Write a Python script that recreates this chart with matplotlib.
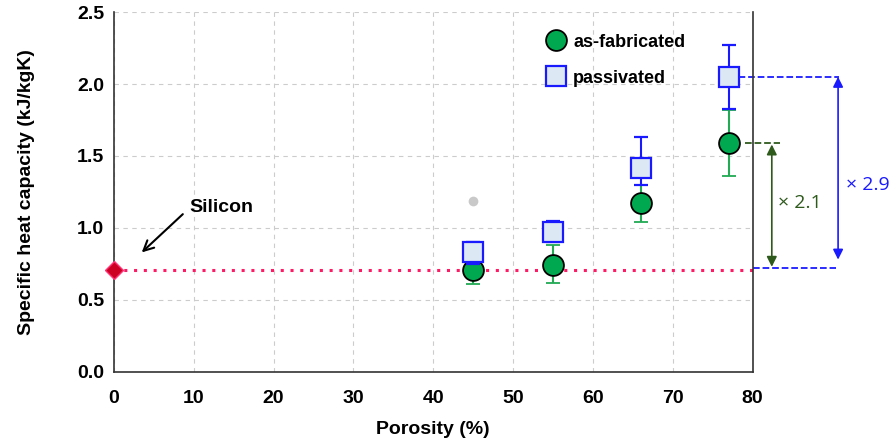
import numpy as np
import matplotlib.pyplot as plt

plt.rcParams['font.family'] = ['Liberation Sans', 'DejaVu Sans']

# data
porosity = [45, 55, 66, 77]
asfab = [0.71, 0.74, 1.17, 1.59]
asfab_lo = [0.10, 0.12, 0.13, 0.23]
asfab_hi = [0.09, 0.14, 0.13, 0.23]
passiv = [0.83, 0.97, 1.42, 2.05]
passiv_lo = [0.08, 0.07, 0.12, 0.22]
passiv_hi = [0.07, 0.08, 0.21, 0.22]
silicon_x = 0
silicon_y = 0.71

fig = plt.figure(figsize=(8.96, 4.48), dpi=100)
ax = fig.add_axes([0.127, 0.170, 0.713, 0.803])

# silicon reference line
ax.plot([0, 80], [silicon_y, silicon_y], ls=(0, (1, 2.2)), color='#ff1a66', lw=2.2, zorder=2)
ax.plot(silicon_x, silicon_y, marker='D', ms=9, color='#cc0022', mec='#ff3377', mew=1, zorder=5, clip_on=False)

ax.errorbar(porosity, asfab, yerr=[asfab_lo, asfab_hi], fmt='o', ms=15,
            mfc='#00a94f', mec='black', mew=1.3, ecolor='#22aa55', elinewidth=1.5,
            capsize=5, capthick=1.5, zorder=3, label='as-fabricated')
ax.errorbar(porosity, passiv, yerr=[passiv_lo, passiv_hi], fmt='s', ms=14,
            mfc='#dde8f5', mec='#1a1aff', mew=1.6, ecolor='#1a1aff', elinewidth=1.5,
            capsize=5, capthick=1.5, zorder=4, label='passivated')

# faint artifact dot
ax.plot(45, 1.19, 'o', ms=7, color='#888888', alpha=0.45, mec='none')

ax.set_xlim(0, 80)
ax.set_ylim(0, 2.5)
ax.set_xticks(np.arange(0, 81, 10))
ax.set_yticks(np.arange(0, 2.51, 0.5))
ax.set_yticklabels([f'{v:.1f}' for v in np.arange(0, 2.51, 0.5)])
ax.grid(True, ls=(0, (4, 4)), color='#cccccc', lw=0.8)
ax.set_axisbelow(True)
ax.spines['top'].set_visible(False)
for s in ['left', 'bottom', 'right']:
    ax.spines[s].set_color('#333333')
    ax.spines[s].set_linewidth(1.2)
ax.tick_params(length=0, labelsize=14)
ax.tick_params(axis='x', pad=13)
ax.tick_params(axis='y', pad=7)
for lbl in ax.get_xticklabels() + ax.get_yticklabels():
    lbl.set_fontweight('bold')
ax.set_xlabel('Porosity (%)', fontsize=14, fontweight='bold', labelpad=10)
ax.set_ylabel('Specific heat capacity (kJ/kgK)', fontsize=14, fontweight='bold', labelpad=30)

h, l = ax.get_legend_handles_labels()
h = [x[0] for x in h]
ax.legend(h, l, loc='upper left', bbox_to_anchor=(0.65, 0.985), frameon=False,
          prop={'weight': 'bold', 'size': 13}, handletextpad=0.35, labelspacing=1.05,
          handlelength=1.2)

# silicon label
ax.annotate('Silicon', xy=(3.5, 0.83), xytext=(9.5, 1.14), fontsize=14, fontweight='bold',
            va='center', ha='left',
            arrowprops=dict(arrowstyle='->', color='black', lw=1.5, mutation_scale=18,
                            shrinkA=4, shrinkB=0, relpos=(0, 0.5)))

# ratio annotations
ax.plot([77, 90.8], [2.05, 2.05], ls='--', color='#1a1aff', lw=1.3, clip_on=False, zorder=1)
ax.plot([80, 90.5], [0.72, 0.72], ls='--', color='#1a1aff', lw=1.3, clip_on=False)
ax.plot([79, 83.4], [1.59, 1.59], ls='--', color='#2e5a1c', lw=1.3, clip_on=False)
ax.annotate('', xy=(90.7, 2.05), xytext=(90.7, 0.78), annotation_clip=False,
            arrowprops=dict(arrowstyle='<|-|>', color='#1a1aff', lw=1.2, mutation_scale=15,
                            shrinkA=0, shrinkB=0))
ax.annotate('', xy=(82.4, 1.58), xytext=(82.4, 0.73), annotation_clip=False,
            arrowprops=dict(arrowstyle='<|-|>', color='#2e5a1c', lw=1.2, mutation_scale=15,
                            shrinkA=0, shrinkB=0))
ax.text(83.2, 1.17, '× 2.1', color='#2e5a1c', fontsize=14, va='center', ha='left',
        family=['Open Sans', 'DejaVu Sans'])
ax.text(91.7, 1.30, '× 2.9', color='#1a1aff', fontsize=14, va='center', ha='left',
        family=['Open Sans', 'DejaVu Sans'])

fig.savefig('out.png', dpi=100)
